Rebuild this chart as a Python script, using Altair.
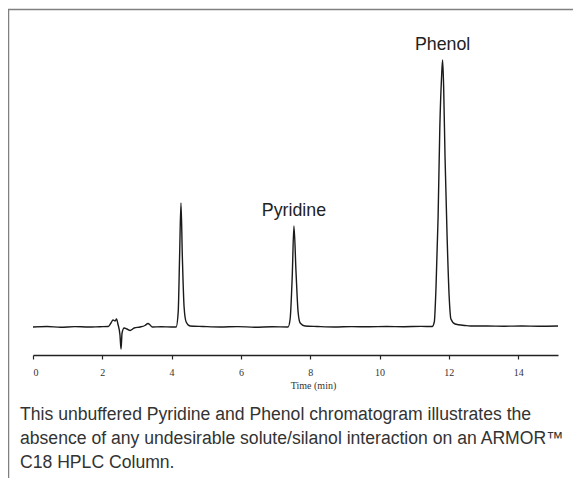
import altair as alt
import pandas as pd

# Chromatogram trace (time in min, detector signal in arbitrary units)
time = [0.0, 0.4, 0.8, 1.2, 1.6, 1.93, 2.17, 2.25, 2.31, 2.37, 2.41, 2.45, 2.51, 2.54, 2.57,
        2.63, 2.71, 2.80, 2.92, 3.09, 3.23, 3.32, 3.38, 3.44, 3.7, 4.0, 4.13, 4.19, 4.23,
        4.27, 4.31, 4.36, 4.42, 4.53, 4.9, 5.4, 5.9, 6.4, 6.9, 7.36, 7.42, 7.48, 7.53, 7.59,
        7.65, 7.71, 7.85, 8.2, 8.7, 9.2, 9.7, 10.2, 10.7, 11.2, 11.52, 11.58, 11.63, 11.69,
        11.74, 11.79, 11.82, 11.85, 11.89, 11.95, 12.01, 12.06, 12.18, 12.47, 12.62, 13.1,
        13.6, 14.1, 14.6, 15.15]
signal = [0, 0.5, -0.3, 0.4, 0, 0.3, 0.5, 4, 7, 6, 8, 3, -8, -22, -6,
          -1, -2, -3.5, -1, 0, 1.5, 3.5, 2, 0, 0.3, 0, 0, 15, 70,
          124, 70, 20, 5, 1, 0.5, 0, 0.4, -0.2, 0.3, 0, 8, 50, 101, 55,
          15, 4, 1, 0.5, 0, 0.4, 0.2, 0.5, 0.3, 0.6, 0.5, 5, 40, 110,
          200, 250, 267, 240, 170, 90, 30, 8, 3, 1.5, 1, 1,
          0.8, 1, 0.8, 1]

peak_names = ["Pyridine", "Phenol"]
peak_times = [7.53, 11.82]
peak_heights = [101, 267]

tick_values = list(range(0, 16))
caption_lines = [
    "This unbuffered Pyridine and Phenol chromatogram illustrates the",
    "absence of any undesirable solute/silanol interaction on an ARMOR\u2122",
    "C18 HPLC Column.",
]

trace = pd.DataFrame({"time": time, "signal": signal})
peaks = pd.DataFrame({"name": peak_names, "time": peak_times, "signal": peak_heights})
caption = pd.DataFrame({"text": ["\n".join(caption_lines)]})

xscale = alt.Scale(domain=[0, 15.15], nice=False, zero=False)
yscale = alt.Scale(domain=[-28, 280], nice=False, zero=False)

frame = alt.Chart(pd.DataFrame({"a": [0]})).mark_rect(
    fill="transparent", stroke="#808080", strokeWidth=1.5
).encode(
    x=alt.value(-24.5), y=alt.value(-37.5), x2=alt.value(800), y2=alt.value(800)
)

line = alt.Chart(trace).mark_line(
    color="#1a1a1a", strokeWidth=1.4, interpolate="monotone", clip=False
).encode(
    x=alt.X("time:Q", scale=xscale, axis=alt.Axis(
        values=tick_values,
        labelExpr="datum.value % 2 == 0 ? datum.value : ''",
        tickSize=4, tickColor="#222", domainColor="#222", domainWidth=1.4,
        tickWidth=1.2, grid=False,
        labelFont="Liberation Serif", labelFontSize=10, labelColor="#333",
        labelPadding=8,
        title="Time (min)", titleFont="Liberation Serif", titleFontSize=10,
        titleFontWeight="normal", titleColor="#333", titlePadding=3,
        titleX=280,
    )),
    y=alt.Y("signal:Q", scale=yscale, axis=None),
)

labels = alt.Chart(peaks).mark_text(
    font="Liberation Sans", fontSize=17.8, color="#222", baseline="alphabetic",
    align="center", dy=-10
).encode(
    x=alt.X("time:Q", scale=xscale),
    y=alt.Y("signal:Q", scale=yscale),
    text="name:N",
)

caption_text = alt.Chart(caption).mark_text(
    font="Liberation Sans", fontSize=17.6, color="#333", baseline="top",
    align="left", lineBreak="\n", lineHeight=24
).encode(
    x=alt.value(-13), y=alt.value(359), text="text:N"
)

chart = alt.layer(frame, line, labels, caption_text).properties(
    width=525,
    height=308,
    autosize=alt.AutoSizeParams(type="none"),
    padding={"left": 25, "top": 39, "right": 15, "bottom": 123},
    background="white",
).configure_view(stroke=None)

chart.save("out.html", embed_options={"renderer": "svg", "actions": False})
